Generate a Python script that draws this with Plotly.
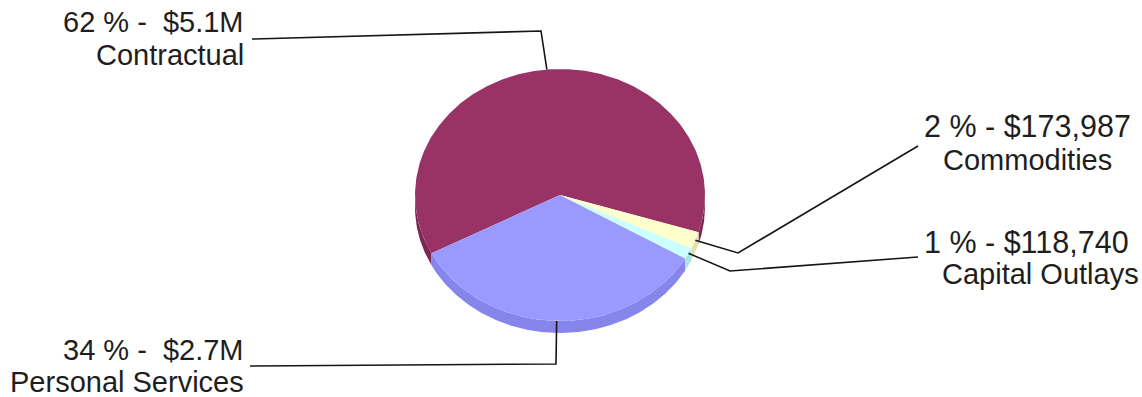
import numpy as np
import plotly.graph_objects as go

# ---------------- data ----------------
categories = ["Contractual", "Personal Services", "Capital Outlays", "Commodities"]
amounts = [5_050_000, 2_745_000, 118_740, 173_987]
amount_labels = ["$5.1M", "$2.7M", "$118,740", "$173,987"]
top_colors = ["#993366", "#9999FF", "#CCFFFF", "#FFFFCC"]
side_colors = ["#7A2850", "#8585EC", "#A9E3E3", "#E3E3B0"]

# ---------------- geometry (pixels) ----------------
W, H = 1142, 397
CX, CY = 560, 195
A, B = 145, 126
DEPTH = 12
START = -17.2  # degrees, counter-clockwise

total = float(sum(amounts))
pcts = [v / total * 100 for v in amounts]
spans = [v / total * 360 for v in amounts]


def ex(t):
    return CX + A * np.cos(np.radians(t))


def ey(t):
    return CY - B * np.sin(np.radians(t))


fig = go.Figure()

# slice angle bounds
bounds = []
s = START
for sp in spans:
    bounds.append((s, s + sp))
    s += sp

# side walls (front half: angles in [180, 360] mod 360)
for (s, e), col in zip(bounds, side_colors):
    for k in (-1, 0, 1):
        lo, hi = max(s, 180 + 360 * k), min(e, 360 + 360 * k)
        if hi - lo <= 0:
            continue
        t = np.linspace(lo, hi, max(3, int((hi - lo) * 2)))
        xs = np.concatenate([ex(t), ex(t[::-1])])
        ys = np.concatenate([ey(t), ey(t[::-1]) + DEPTH])
        fig.add_trace(go.Scatter(x=xs, y=ys, fill="toself", fillcolor=col,
                                 mode="lines", line=dict(width=0),
                                 hoverinfo="skip", showlegend=False))

# top faces
for (s, e), col, name in zip(bounds, top_colors, categories):
    t = np.linspace(s, e, max(3, int((e - s) * 2)))
    xs = np.concatenate([[CX], ex(t), [CX]])
    ys = np.concatenate([[CY], ey(t), [CY]])
    fig.add_trace(go.Scatter(x=xs, y=ys, fill="toself", fillcolor=col,
                             mode="lines", line=dict(width=0), name=name,
                             hoverinfo="name", showlegend=False))

# ---------------- leader lines & labels ----------------
mids = [(s + e) / 2 for s, e in bounds]
anchors = [(ex(m), ey(m)) for m in mids]

# per-slice: elbow point, end point (layout positions)
elbows = [(541, 31), (556, 364), (730, 271), (738, 253)]
ends = [(252, 39), (250, 366), (918, 257), (918, 146)]

for (ax_, ay_), (bx, by), (cx_, cy_) in zip(anchors, elbows, ends):
    fig.add_trace(go.Scatter(x=[ax_, bx, cx_], y=[ay_, by, cy_], mode="lines",
                             line=dict(color="#161616", width=1.6),
                             hoverinfo="skip", showlegend=False))

FAMILY = "Liberation Sans, Arial, sans-serif"
NB = "\u00a0"

label_pos = {
    # (x line1, xanchor, y line1, y line2, x line2, size line1)
    "Contractual": (246, "right", 22, 55, 246, 29),
    "Personal Services": (246, "right", 350, 382, 246, 29),
    "Commodities": (922, "left", 126, 160, 941, 30.5),
    "Capital Outlays": (922, "left", 242, 274, 940, 30.5),
}

for name, pct, amt in zip(categories, pcts, amount_labels):
    x1, anc, y1, y2, x2, fs1 = label_pos[name]
    gap = NB * 2 if amt.endswith("M") else NB
    line1 = f"{round(pct):d}{NB}%{NB}-{gap}{amt}"
    fig.add_annotation(x=x1, y=y1, text=line1, showarrow=False, xanchor=anc,
                       yanchor="middle",
                       font=dict(family=FAMILY, size=fs1, color="#1e1e1e"))
    fig.add_annotation(x=x2, y=y2, text=name, showarrow=False, xanchor=anc,
                       yanchor="middle",
                       font=dict(family=FAMILY, size=29, color="#1e1e1e"))

fig.update_layout(
    width=W, height=H, autosize=False,
    margin=dict(l=0, r=0, t=0, b=0),
    paper_bgcolor="white", plot_bgcolor="white",
    xaxis=dict(range=[0, W], visible=False, fixedrange=True),
    yaxis=dict(range=[H, 0], visible=False, fixedrange=True),
)

fig.write_html("out.html")
